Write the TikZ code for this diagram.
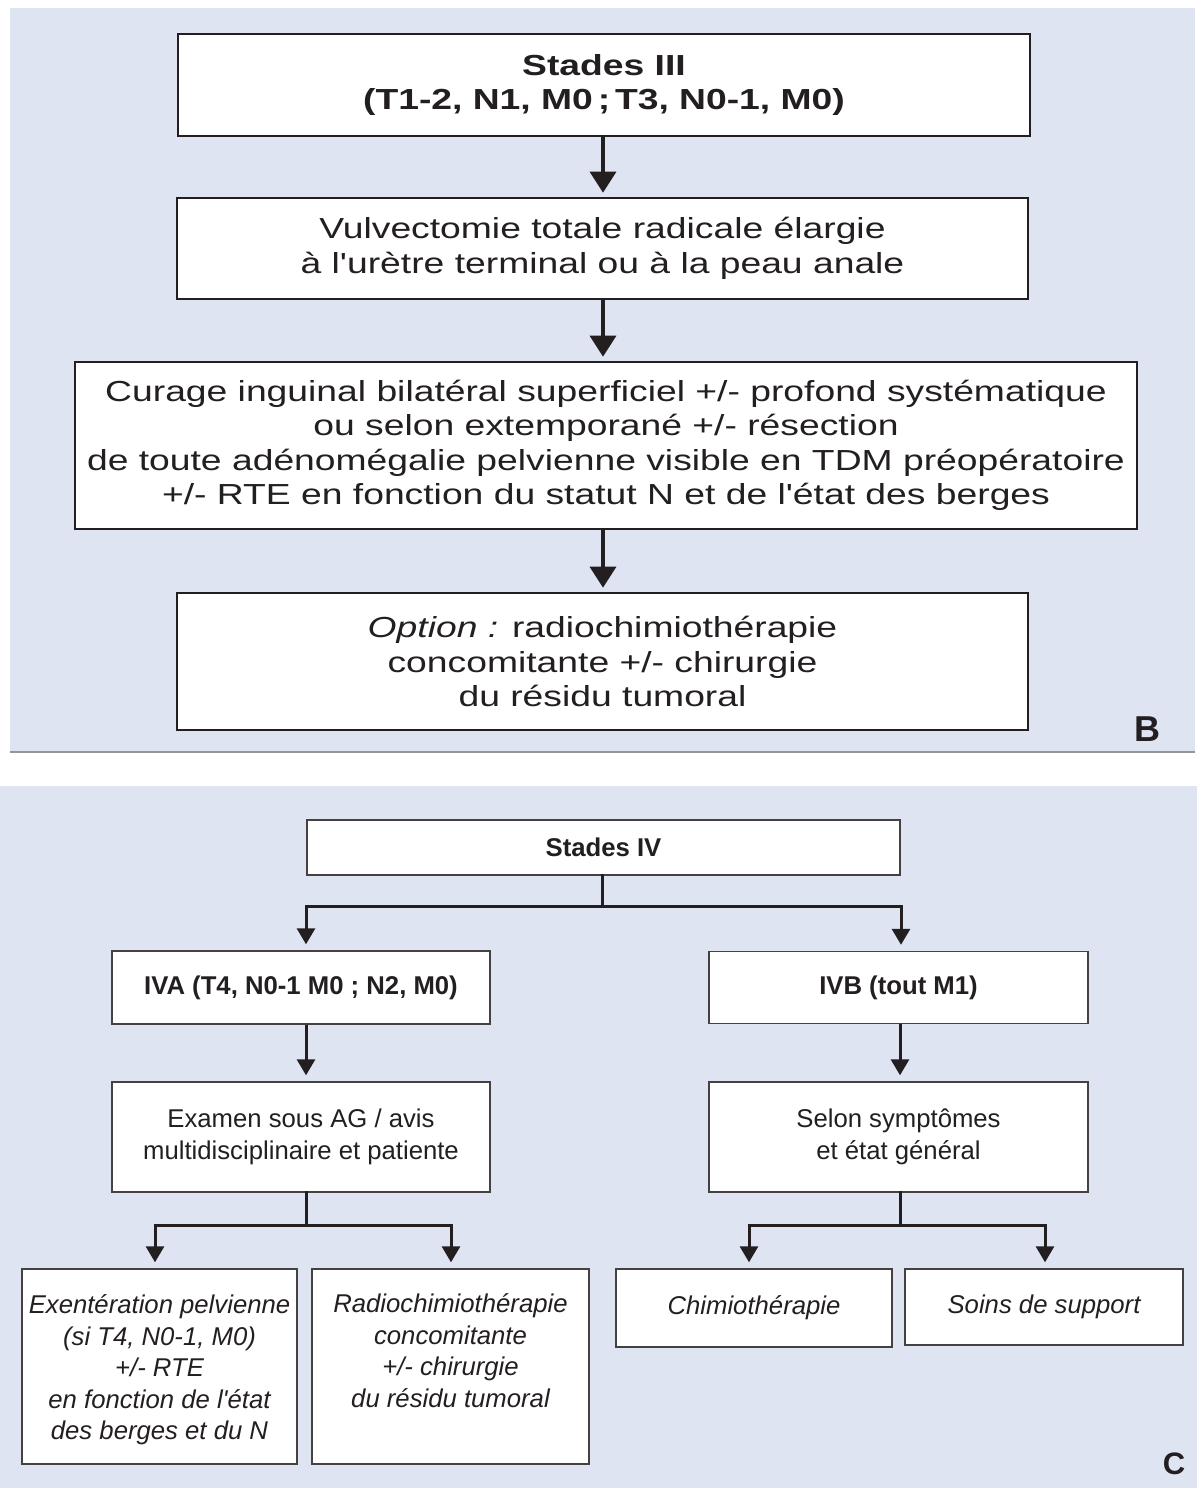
\documentclass[tikz,border=0pt]{standalone}
\usepackage{fontspec}
\setmainfont{Liberation Sans}
\newfontfamily\widefont[FakeStretch=1.285]{Liberation Sans}
\newfontfamily\plainsans{Liberation Sans}
\usetikzlibrary{arrows.meta}
\definecolor{panelbg}{RGB}{223,228,242}
\definecolor{ink}{RGB}{35,31,32}
\definecolor{edgegray}{RGB}{150,150,150}

\begin{document}
\begin{tikzpicture}[x=1pt,y=-1pt,
  boxB/.style={draw=ink, line width=2.6pt, fill=white, inner sep=0pt, align=center,
    text=ink, font=\widefont\fontsize{29}{34.5}\selectfont},
  boxC/.style={draw=ink!85, line width=1.4pt, fill=white, inner sep=0pt, align=center,
    text=ink, font=\plainsans\fontsize{25.7}{31.5}\selectfont},
  itC/.style={font=\plainsans\itshape\fontsize{25.7}{31.5}\selectfont},
  arrB/.style={draw=ink, line width=3.4pt, -{Triangle[width=26pt,length=21pt]}, shorten >=4pt},
  arrC/.style={draw=ink, line width=3pt, -{Triangle[width=18pt,length=16pt]}, shorten >=6pt},
  lineC/.style={draw=ink, line width=3pt, line cap=rect},
  panel/.style={font=\bfseries, text=ink, inner sep=0pt},
]
\useasboundingbox (0,0) rectangle (1197,1488);
\fill[white] (0,0) rectangle (1197,1488);

% ---------- panel B ----------
\fill[panelbg] (10,8) rectangle (1195,752);
\draw[edgegray, line width=1.5pt] (10,752) -- (1195,752);

\node[boxB, minimum width=852pt, minimum height=102pt] (b1) at (604,85)
  {\textbf{Stades III}\\\textbf{(T1-2, N1, M0\,;\,T3, N0-1, M0)}};
\node[boxB, minimum width=851pt, minimum height=101pt] (b2) at (602.5,248.5)
  {Vulvectomie totale radicale élargie\\à l'urètre terminal ou à la peau anale};
\node[boxB, minimum width=1062pt, minimum height=167pt] (b3) at (606,445.5)
  {Curage inguinal bilatéral superficiel +/- profond systématique\\
   ou selon extemporané +/- résection\\
   de toute adénomégalie pelvienne visible en TDM préopératoire\\
   +/- RTE en fonction du statut N et de l'état des berges};
\node[boxB, minimum width=851pt, minimum height=137pt] (b4) at (602.5,661.5)
  {\textit{Option :} radiochimiothérapie\\concomitante +/- chirurgie\\du résidu tumoral};

\draw[arrB] ([xshift=-1pt]b1.south) -- ([xshift=-1pt]b1.south |- b2.north);
\draw[arrB] ([xshift=-1pt]b1.south |- b2.south) -- ([xshift=-1pt]b1.south |- b3.north);
\draw[arrB] ([xshift=-1pt]b1.south |- b3.south) -- ([xshift=-1pt]b1.south |- b4.north);

\node[panel, font=\fontsize{36}{36}\selectfont\bfseries] (lblB) at (1147,729) {B};

% ---------- panel C ----------
\fill[panelbg] (0,786) rectangle (1197,1488);

\node[boxC, minimum width=593pt, minimum height=55pt] (s4) at (603.5,847.5)
  {\textbf{Stades IV}};
\node[boxC, minimum width=378pt, minimum height=73pt] (iva) at (301,987.5)
  {\textbf{IVA (T4, N0-1 M0 ; N2, M0)}};
\node[boxC, minimum width=379pt, minimum height=72pt] (ivb) at (898.5,987.5)
  {\textbf{IVB (tout M1)}};
\node[boxC, minimum width=378pt, minimum height=110pt] (exam) at (301,1137)
  {Examen sous AG / avis\\multidisciplinaire et patiente};
\node[boxC, minimum width=379pt, minimum height=110pt] (selon) at (898.5,1137)
  {Selon symptômes\\et état général};
\node[boxC, itC, minimum width=275pt, minimum height=195pt] (exen) at (159.5,1366.5)
  {\\[-6pt]Exentération pelvienne\\(si T4, N0-1, M0)\\+/- RTE\\en fonction de l'état\\des berges et du N};
\node[boxC, itC, minimum width=277pt, minimum height=195pt] (radio) at (450.5,1366.5)
  {Radiochimiothérapie\\concomitante\\+/- chirurgie\\du résidu tumoral\\\mbox{}};
\node[boxC, itC, minimum width=276pt, minimum height=78pt] (chimio) at (754,1308)
  {Chimiothérapie};
\node[boxC, itC, minimum width=278pt, minimum height=76pt] (soins) at (1044,1307)
  {Soins de support};

% branching from Stades IV
\coordinate (j1) at (602,906);
\draw[lineC] ([xshift=-1.5pt]s4.south) -- (j1);
\draw[arrC] (j1) -| ([xshift=5pt]iva.north);
\draw[arrC] (j1) -| ([xshift=2.5pt]ivb.north);

% straight arrows
\draw[arrC] ([xshift=5pt]iva.south) -- ([xshift=5pt]exam.north);
\draw[arrC] ([xshift=1.5pt]ivb.south) -- ([xshift=1.5pt]selon.north);

% branching below the second row
\coordinate (j2) at (306,1225);
\draw[lineC] ([xshift=5pt]exam.south) -- (j2);
\draw[arrC] (j2) -| ([xshift=-4.5pt]exen.north);
\draw[arrC] (j2) -| ([xshift=0.5pt]radio.north);

\coordinate (j3) at (900,1225);
\draw[lineC] ([xshift=1.5pt]selon.south) -- (j3);
\draw[arrC] (j3) -| ([xshift=-5pt]chimio.north);
\draw[arrC] (j3) -| ([xshift=1pt]soins.north);

\node[panel, font=\fontsize{31}{31}\selectfont\bfseries] (lblC) at (1174,1463.5) {C};
\end{tikzpicture}
\end{document}
